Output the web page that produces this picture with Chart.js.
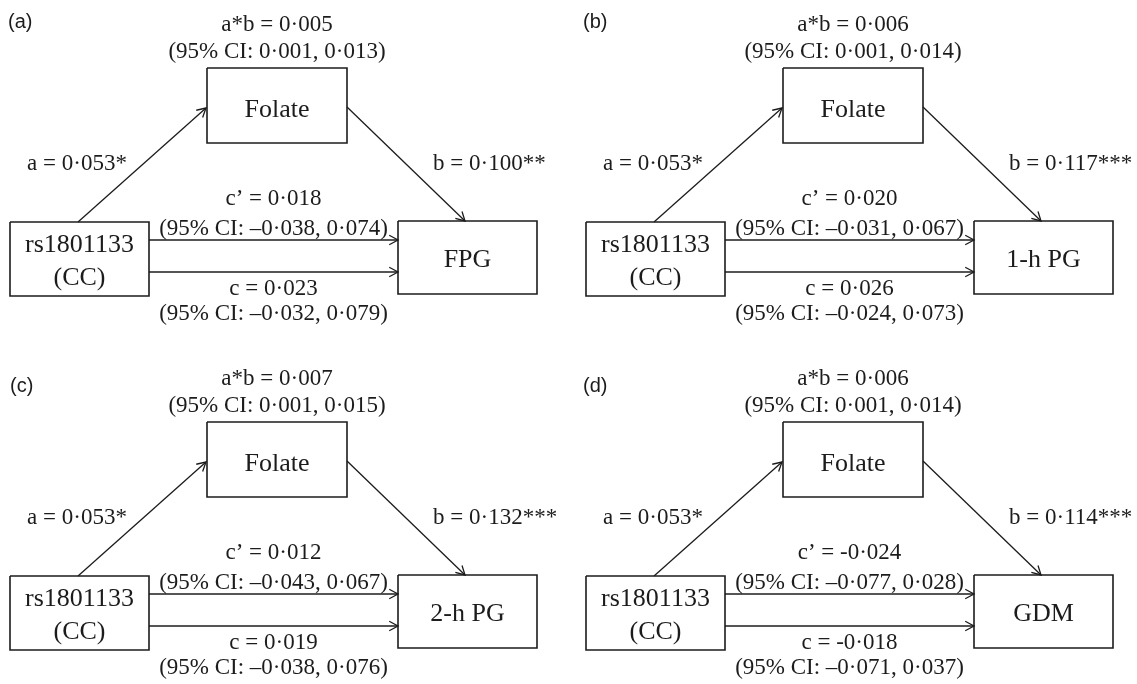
<!DOCTYPE html>
<html>
<head>
<meta charset="utf-8">
<script src="https://cdn.jsdelivr.net/npm/chart.js@4/dist/chart.umd.min.js"></script>
<style>
  html, body { margin: 0; padding: 0; background: #fff; }
  #wrap { width: 1137px; height: 684px; position: relative; }
</style>
</head>
<body>
<div id="wrap"><canvas id="c"></canvas></div>
<script>
// ---------- data ----------
const panelLabels = ['(a)', '(b)', '(c)', '(d)'];
const mediator = 'Folate';
const exposureLines = ['rs1801133', '(CC)'];
const outcomes = ['FPG', '1-h PG', '2-h PG', 'GDM'];
const aCoef = ['0·053*', '0·053*', '0·053*', '0·053*'];
const bCoef = ['0·100**', '0·117***', '0·132***', '0·114***'];
const abCoef = ['0·005', '0·006', '0·007', '0·006'];
const abLow = ['0·001', '0·001', '0·001', '0·001'];
const abHigh = ['0·013', '0·014', '0·015', '0·014'];
const cPrimeCoef = ['0·018', '0·020', '0·012', '-0·024'];
const cPrimeLow = ['–0·038', '–0·031', '–0·043', '–0·077'];
const cPrimeHigh = ['0·074', '0·067', '0·067', '0·028'];
const cCoef = ['0·023', '0·026', '0·019', '-0·018'];
const cLow = ['–0·032', '–0·024', '–0·038', '–0·071'];
const cHigh = ['0·079', '0·073', '0·076', '0·037'];

// ---------- layout (panel-relative geometry, pixels) ----------
const panelOffsets = [[0, 0], [576, 0], [0, 354], [576, 354]];
const labelPos = [[8, 22], [583, 22], [10, 386], [583, 386]];
const G = {
  med: [207, 68, 347, 143],
  exp: [10, 222, 149, 296],
  out: [398, 221, 537, 294],
  aFrom: [78, 222], aTo: [206, 108],
  bFrom: [347, 107], bTo: [465, 221],
  cpY: 240, cY: 272
};
const INK = '#1c1c1c';

// ---------- build datasets ----------
const datasets = [];
function boxPts(b, dx, dy) {
  return [
    {x: b[0] + dx, y: b[1] + dy}, {x: b[2] + dx, y: b[1] + dy},
    {x: b[2] + dx, y: b[3] + dy}, {x: b[0] + dx, y: b[3] + dy},
    {x: b[0] + dx, y: b[1] + dy}
  ];
}
const arrows = [];
panelOffsets.forEach(([dx, dy]) => {
  [G.med, G.exp, G.out].forEach(b => datasets.push({
    data: boxPts(b, dx, dy), showLine: true, borderColor: INK, borderWidth: 1.6,
    pointRadius: 0, fill: false, tension: 0
  }));
  const lines = [
    [G.aFrom, G.aTo],
    [G.bFrom, G.bTo],
    [[G.exp[2], G.cpY], [G.out[0], G.cpY]],
    [[G.exp[2], G.cY], [G.out[0], G.cY]]
  ];
  lines.forEach(([p, q]) => {
    const seg = [{x: p[0] + dx, y: p[1] + dy}, {x: q[0] + dx, y: q[1] + dy}];
    arrows.push(seg);
    datasets.push({
      data: seg, showLine: true, borderColor: INK, borderWidth: 1.3,
      pointRadius: 0, fill: false, tension: 0
    });
  });
});

// ---------- plugin: arrowheads + text ----------
const diagramPlugin = {
  id: 'diagram',
  beforeDraw(chart) {
    const ctx = chart.ctx;
    ctx.save();
    ctx.fillStyle = '#fff';
    ctx.fillRect(0, 0, chart.width, chart.height);
    ctx.restore();
  },
  afterDatasetsDraw(chart) {
    const ctx = chart.ctx;
    const xs = chart.scales.x, ys = chart.scales.y;
    const X = v => xs.getPixelForValue(v), Y = v => ys.getPixelForValue(v);
    ctx.save();
    // arrowheads
    ctx.strokeStyle = INK;
    ctx.lineWidth = 1.3;
    arrows.forEach(seg => {
      const x1 = X(seg[0].x), y1 = Y(seg[0].y), x2 = X(seg[1].x), y2 = Y(seg[1].y);
      const ang = Math.atan2(y2 - y1, x2 - x1);
      const L = 10, h = 0.5;
      ctx.beginPath();
      ctx.moveTo(x2 - L * Math.cos(ang - h), y2 - L * Math.sin(ang - h));
      ctx.lineTo(x2, y2);
      ctx.lineTo(x2 - L * Math.cos(ang + h), y2 - L * Math.sin(ang + h));
      ctx.stroke();
    });
    // text
    ctx.fillStyle = INK;
    const serif = '"Liberation Serif", "Times New Roman", serif';
    function txt(s, x, y, size, align, family) {
      ctx.font = size + 'px ' + (family || serif);
      ctx.textAlign = align || 'center';
      ctx.textBaseline = 'alphabetic';
      ctx.fillText(s, X(x), Y(y));
    }
    const midX = (G.exp[2] + G.out[0]) / 2;
    const medX = (G.med[0] + G.med[2]) / 2;
    const expX = (G.exp[0] + G.exp[2]) / 2;
    const outX = (G.out[0] + G.out[2]) / 2;
    panelOffsets.forEach(([dx, dy], i) => {
      ctx.font = '20px "Liberation Sans", Arial, sans-serif';
      ctx.textAlign = 'left';
      ctx.textBaseline = 'middle';
      ctx.fillText(panelLabels[i], X(labelPos[i][0]), Y(labelPos[i][1]));

      txt('a*b = ' + abCoef[i], medX + dx, 31 + dy, 23);
      txt('(95% CI: ' + abLow[i] + ', ' + abHigh[i] + ')', medX + dx, 58 + dy, 23);
      txt(mediator, medX + dx, 117 + dy, 26);
      txt('a = ' + aCoef[i], 77 + dx, 170 + dy, 23);
      txt('b = ' + bCoef[i], 433 + dx, 170 + dy, 23, 'left');
      txt('c’ = ' + cPrimeCoef[i], midX + dx, 205 + dy, 23);
      txt('(95% CI: ' + cPrimeLow[i] + ', ' + cPrimeHigh[i] + ')', midX + dx, 235 + dy, 23);
      txt('c = ' + cCoef[i], midX + dx, 295 + dy, 23);
      txt('(95% CI: ' + cLow[i] + ', ' + cHigh[i] + ')', midX + dx, 320 + dy, 23);
      txt(exposureLines[0], expX + dx, 252 + dy, 26);
      txt(exposureLines[1], expX + dx, 285 + dy, 26);
      txt(outcomes[i], outX + dx, 267 + dy, 26);
    });
    ctx.restore();
  }
};

new Chart(document.getElementById('c'), {
  type: 'scatter',
  data: { datasets },
  options: {
    responsive: true,
    maintainAspectRatio: false,
    animation: false,
    events: [],
    layout: { padding: 0 },
    plugins: { legend: { display: false }, tooltip: { enabled: false }, title: { display: false } },
    scales: {
      x: { type: 'linear', min: 0, max: 1137, display: false },
      y: { type: 'linear', min: 0, max: 684, reverse: true, display: false }
    }
  },
  plugins: [diagramPlugin]
});
</script>
</body>
</html>
